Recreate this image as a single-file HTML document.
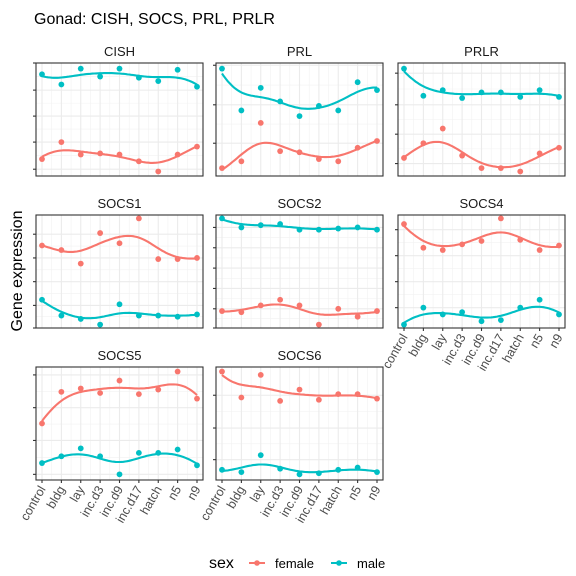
<!DOCTYPE html>
<html><head><meta charset="utf-8"><style>
body{margin:0;background:#fff;}
svg{display:block;font-family:"Liberation Sans",Arial,sans-serif;}
</style></head><body>
<svg id="chart" width="576" height="576" viewBox="0 0 576 576">
<text x="34" y="24" font-size="16" fill="#000">Gonad: CISH, SOCS, PRL, PRLR</text>
<text transform="translate(22,271) rotate(-90)" text-anchor="middle" font-size="16" fill="#000">Gene expression</text>
<g>
<text x="209" y="568" font-size="16" fill="#000">sex</text>
<g>
<line x1="249" y1="563" x2="265" y2="563" stroke="#F8766D" stroke-width="2"/><circle cx="257" cy="563" r="2.8" fill="#F8766D"/>
<text x="275" y="568" font-size="13" fill="#000">female</text></g>
<g>
<line x1="331" y1="563" x2="347" y2="563" stroke="#00BFC4" stroke-width="2"/><circle cx="339" cy="563" r="2.8" fill="#00BFC4"/>
<text x="357" y="568" font-size="13" fill="#000">male</text></g>
</g>
<g id="panels"></g>
</svg>
<script>
const categories = ["control","bldg","lay","inc.d3","inc.d9","inc.d17","hatch","n5","n9"];
const genes = ["CISH","PRL","PRLR","SOCS1","SOCS2","SOCS4","SOCS5","SOCS6"];
const femaleCISH = [.15,.30,.19,.20,.19,.13,.04,.19,.26];
const maleCISH   = [.90,.81,.95,.88,.95,.87,.84,.94,.79];
const femalePRL  = [.07,.13,.47,.22,.21,.15,.13,.25,.31];
const malePRL    = [.95,.58,.78,.66,.53,.62,.58,.83,.76];
const femalePRLR = [.16,.29,.42,.18,.07,.07,.04,.20,.25];
const malePRLR   = [.95,.71,.76,.69,.74,.74,.70,.76,.70];
const femaleSOCS1 = [.73,.69,.57,.84,.75,.97,.61,.61,.62];
const maleSOCS1   = [.25,.11,.08,.03,.21,.11,.11,.10,.12];
const femaleSOCS2 = [.15,.14,.20,.25,.20,.03,.17,.10,.15];
const maleSOCS2   = [.97,.89,.91,.92,.87,.87,.88,.89,.87];
const femaleSOCS4 = [.92,.71,.69,.74,.77,.97,.78,.69,.73];
const maleSOCS4   = [.03,.18,.12,.14,.06,.07,.18,.25,.12];
const femaleSOCS5 = [.50,.78,.81,.77,.88,.76,.80,.96,.72];
const maleSOCS5   = [.15,.21,.28,.21,.05,.24,.24,.27,.13];
const femaleSOCS6 = [.96,.73,.93,.70,.80,.71,.76,.76,.72];
const maleSOCS6   = [.09,.07,.22,.10,.05,.06,.09,.11,.07];
const yTicksCISH = [1.0,.76,.53,.30,.06];
const yTicksPRL = [.98,.63,.29];
const yTicksPRLR = [.91,.63,.37,.11];
const yTicksSOCS1 = [.83,.62,.41,.20,0.0];
const yTicksSOCS2 = [.89,.71,.53,.35,.17,0.0];
const yTicksSOCS4 = [.87,.64,.41,.18];
const yTicksSOCS5 = [.93,.64,.35,.05];
const yTicksSOCS6 = [.75,.46,.18];

const femaleSeries = [femaleCISH,femalePRL,femalePRLR,femaleSOCS1,femaleSOCS2,femaleSOCS4,femaleSOCS5,femaleSOCS6];
const maleSeries = [maleCISH,malePRL,malePRLR,maleSOCS1,maleSOCS2,maleSOCS4,maleSOCS5,maleSOCS6];
const yTicks = [yTicksCISH,yTicksPRL,yTicksPRLR,yTicksSOCS1,yTicksSOCS2,yTicksSOCS4,yTicksSOCS5,yTicksSOCS6];

const NS="http://www.w3.org/2000/svg";
const root=document.getElementById('panels');
const colL=[36,216,398], rowT=[63,215,367], PW=167, PH=113;
const showX=[false,false,false,false,false,true,true,true];
function mk(t,a,p){const e=document.createElementNS(NS,t);for(const k in a)e.setAttribute(k,a[k]);(p||root).appendChild(e);return e;}
function smooth(vals,t){
  let sw=0,sx=0,sy=0,sxx=0,sxy=0;
  vals.forEach((v,i)=>{const w=Math.exp(-0.5*Math.pow((i-t)/1.0,2));sw+=w;sx+=w*i;sy+=w*v;sxx+=w*i*i;sxy+=w*i*v;});
  const mx=sx/sw,my=sy/sw,vx=sxx/sw-mx*mx,cxy=sxy/sw-mx*my;
  return my+(vx>1e-9?cxy/vx:0)*(t-mx);
}
genes.forEach((g,gi)=>{
  const L=colL[gi%3], T=rowT[Math.floor(gi/3)];
  const gp=mk('g',{});
  
  
  const xs=i=>L+6+i*(PW-12)/8;
  const ys=f=>T+PH-f*PH;
  mk('rect',{x:L,y:T,width:PW,height:PH,fill:'#fff'},gp);
  const tk=yTicks[gi];
  for(let k=0;k<tk.length-1;k++){const m=(tk[k]+tk[k+1])/2;mk('line',{x1:L,x2:L+PW,y1:ys(m),y2:ys(m),stroke:'#f2f2f2','stroke-width':0.6},gp);}
  for(let i=0;i<8;i++){const m=xs(i+0.5);mk('line',{x1:m,x2:m,y1:T,y2:T+PH,stroke:'#f2f2f2','stroke-width':0.6},gp);}
  tk.forEach(f=>{mk('line',{x1:L,x2:L+PW,y1:ys(f),y2:ys(f),stroke:'#ebebeb','stroke-width':1.1},gp);
    const t=mk('line',{x1:L-3,x2:L,y1:ys(f),y2:ys(f),stroke:'#333','stroke-width':1.1},gp);
    
    });
  categories.forEach((c,i)=>{mk('line',{x1:xs(i),x2:xs(i),y1:T,y2:T+PH,stroke:'#ebebeb','stroke-width':1.1},gp);});
  [[femaleSeries[gi],'#F8766D','female'],[maleSeries[gi],'#00BFC4','male']].forEach(([vals,col,nm])=>{
    let d='';for(let s=0;s<=80;s++){const t=s/10;d+=(s?'L':'M')+xs(t).toFixed(1)+','+ys(smooth(vals,t)).toFixed(1);}
    const p=mk('path',{d:d,fill:'none',stroke:col,'stroke-width':2.1},gp);
    
    
    vals.forEach((v,i)=>{const c=mk('circle',{cx:xs(i),cy:ys(v),r:2.9,fill:col},gp);
      
      });
  });
  mk('rect',{x:L,y:T,width:PW,height:PH,fill:'none',stroke:'#333','stroke-width':1.1},gp);
  const st=mk('text',{x:L+PW/2,y:T-7,'text-anchor':'middle','font-size':13,fill:'#1a1a1a'},gp);
  st.textContent=g;
  
  
  if(showX[gi]){
    categories.forEach((c,i)=>{
      mk('line',{x1:xs(i),x2:xs(i),y1:T+PH,y2:T+PH+3,stroke:'#333','stroke-width':1.1},gp);
      const tx=mk('text',{x:0,y:0,'text-anchor':'end','font-size':12.5,fill:'#4d4d4d',transform:`translate(${xs(i)+4},${T+PH+9}) rotate(-60)`},gp);
      tx.textContent=c;
      
      
    });
  }
});
</script>
</body></html>
